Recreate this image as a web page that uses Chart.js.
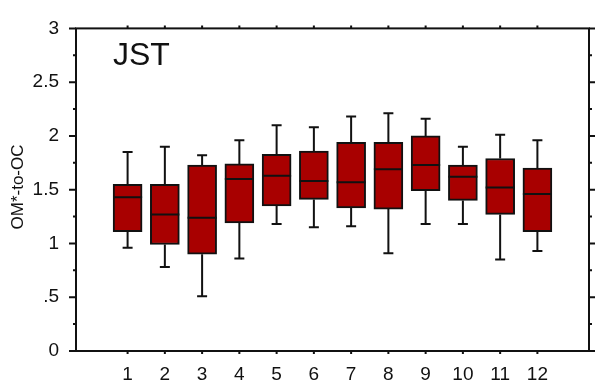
<!DOCTYPE html>
<html>
<head>
<meta charset="utf-8">
<title>JST OM*-to-OC</title>
<script src="https://cdn.jsdelivr.net/npm/chart.js@4/dist/chart.umd.min.js"></script>
<style>
  html, body { margin: 0; padding: 0; background: #fff; }
  #wrap { width: 595px; height: 392px; }
</style>
</head>
<body>
<div id="wrap"><canvas id="boxChart" width="595" height="392"></canvas></div>
<script>
// --- DATOS ---
const months      = [1, 2, 3, 4, 5, 6, 7, 8, 9, 10, 11, 12];
const whiskerLow  = [0.96, 0.78, 0.51, 0.86, 1.18, 1.15, 1.16, 0.91, 1.18, 1.18, 0.85, 0.93];
const q1          = [1.11, 0.99, 0.90, 1.19, 1.35, 1.41, 1.33, 1.32, 1.49, 1.40, 1.27, 1.11];
const median      = [1.43, 1.27, 1.24, 1.60, 1.63, 1.58, 1.57, 1.69, 1.73, 1.62, 1.52, 1.46];
const q3          = [1.55, 1.55, 1.73, 1.74, 1.83, 1.86, 1.94, 1.94, 2.00, 1.73, 1.79, 1.70];
const whiskerHigh = [1.85, 1.90, 1.82, 1.96, 2.10, 2.08, 2.18, 2.21, 2.16, 1.90, 2.01, 1.96];
const yTickValues  = [0, 0.5, 1, 1.5, 2, 2.5, 3];
const yTickLabels  = ['0', '.5', '1', '1.5', '2', '2.5', '3'];
const yMinorValues = [0.25, 0.75, 1.25, 1.75, 2.25, 2.75];
const panelLabel = 'JST';
const yTitle = 'OM*-to-OC';

const FONT = '"Liberation Sans", Arial, sans-serif';
const INK = '#111';

// --- BIGOTES, MEDIANAS, MARCO Y TEXTOS ---
const boxExtras = {
    id: 'boxExtras',
    afterDatasetsDraw(chart) {
        const ctx = chart.ctx;
        const xs = chart.scales.x;
        const ys = chart.scales.y;
        const ca = chart.chartArea;
        const bars = chart.getDatasetMeta(0).data;

        ctx.save();
        ctx.strokeStyle = INK;
        ctx.lineWidth = 2;
        ctx.lineCap = 'butt';

        months.forEach((m, i) => {
            const x = xs.getPixelForValue(m);
            const half = bars[i].width / 2;
            const cap = 5;
            const yHi = ys.getPixelForValue(whiskerHigh[i]);
            const yLo = ys.getPixelForValue(whiskerLow[i]);
            const yQ1 = ys.getPixelForValue(q1[i]);
            const yQ3 = ys.getPixelForValue(q3[i]);
            const yMed = ys.getPixelForValue(median[i]);
            ctx.beginPath();
            ctx.moveTo(x, yQ3); ctx.lineTo(x, yHi);
            ctx.moveTo(x - cap, yHi); ctx.lineTo(x + cap, yHi);
            ctx.moveTo(x, yQ1); ctx.lineTo(x, yLo);
            ctx.moveTo(x - cap, yLo); ctx.lineTo(x + cap, yLo);
            ctx.moveTo(x - half, yMed); ctx.lineTo(x + half, yMed);
            ctx.stroke();
        });

        // marco
        ctx.strokeRect(ca.left, ca.top, ca.right - ca.left, ca.bottom - ca.top);

        // marcas del eje Y (izquierda y derecha, hacia fuera)
        ctx.beginPath();
        yTickValues.forEach(v => {
            const y = ys.getPixelForValue(v);
            ctx.moveTo(ca.left - 7, y); ctx.lineTo(ca.left, y);
            ctx.moveTo(ca.right, y); ctx.lineTo(ca.right + 6, y);
        });
        yMinorValues.forEach(v => {
            const y = ys.getPixelForValue(v);
            ctx.moveTo(ca.left - 3, y); ctx.lineTo(ca.left, y);
            ctx.moveTo(ca.right, y); ctx.lineTo(ca.right + 3, y);
        });
        // marcas del eje X (abajo y arriba)
        months.forEach(m => {
            const x = xs.getPixelForValue(m);
            ctx.moveTo(x, ca.bottom); ctx.lineTo(x, ca.bottom + 3);
            ctx.moveTo(x, ca.top); ctx.lineTo(x, ca.top - 3);
        });
        ctx.stroke();

        // etiqueta del panel
        ctx.fillStyle = INK;
        ctx.font = '32px ' + FONT;
        ctx.textAlign = 'left';
        ctx.textBaseline = 'alphabetic';
        ctx.fillText(panelLabel, 113, 65);

        // título del eje Y
        ctx.translate(18.5, 187);
        ctx.rotate(-Math.PI / 2);
        ctx.font = '17px ' + FONT;
        ctx.textAlign = 'center';
        ctx.textBaseline = 'middle';
        ctx.fillText(yTitle, 0, 0);
        ctx.restore();
    }
};

const ctx = document.getElementById('boxChart').getContext('2d');
new Chart(ctx, {
    type: 'bar',
    data: {
        datasets: [{
            data: months.map((m, i) => ({ x: m, y: [q1[i], q3[i]] })),
            backgroundColor: '#a80000',
            borderColor: INK,
            borderWidth: 2,
            borderSkipped: false,
            barThickness: 29
        }]
    },
    options: {
        responsive: false,
        animation: false,
        devicePixelRatio: 1,
        layout: { padding: { top: 9, right: 6, left: 0, bottom: 0 } },
        plugins: { legend: { display: false }, tooltip: { enabled: false } },
        scales: {
            x: {
                type: 'linear',
                offset: false,
                min: -0.385,
                max: 13.385,
                grid: { display: false, drawTicks: false, offset: false },
                border: { display: false },
                afterBuildTicks: s => { s.ticks = months.map(v => ({ value: v })); },
                afterFit: s => { s.height = 41; },
                ticks: {
                    autoSkip: false,
                    maxRotation: 0,
                    padding: 12,
                    color: INK,
                    font: { family: FONT, size: 19 },
                    callback: v => String(v)
                }
            },
            y: {
                min: 0,
                max: 3,
                grid: { display: false, drawTicks: false },
                border: { display: false },
                afterBuildTicks: s => { s.ticks = yTickValues.map(v => ({ value: v })); },
                afterFit: s => { s.width = 76; },
                ticks: {
                    padding: 17,
                    color: INK,
                    font: { family: FONT, size: 19 },
                    callback: (v, i) => yTickLabels[i]
                }
            }
        }
    },
    plugins: [boxExtras]
});
</script>
</body>
</html>
